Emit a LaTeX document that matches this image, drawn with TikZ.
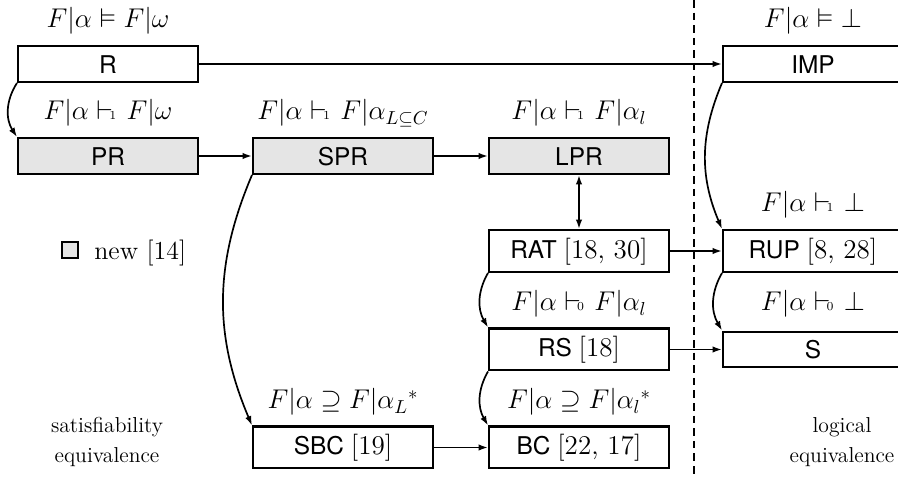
\documentclass[tikz,border=0pt,12pt]{standalone}
\usepackage{amssymb}
\usepackage{fontspec}
\newfontfamily\boxfont{TeX Gyre Heros}
\usetikzlibrary{arrows.meta}
\newcommand{\vdsub}[1]{\mathrel{\vdash\kern-6pt\hbox{\fontsize{6.5pt}{7pt}\selectfont #1}\kern1.5pt}}
\newcommand{\refs}[1]{{\rmfamily\large #1}}
\begin{document}
\begin{tikzpicture}[x=0.5319pt,y=0.5319pt,
  box/.style={draw, line width=1.1pt, minimum width=95.7pt, minimum height=19.1pt,
    text height=11.2pt, text depth=1.4pt, inner sep=0pt,
    font=\boxfont\fontsize{13pt}{15pt}\selectfont},
  tall/.style={minimum height=22.3pt, text height=11pt, text depth=3.4pt},
  newbox/.style={box, fill=black!10},
  lab/.style={anchor=base, inner sep=0pt, font=\large},
  note/.style={anchor=base, inner sep=0pt, font=\fontsize{11.5pt}{14pt}\selectfont},
  conn/.style={line width=0.9pt, -{Latex[length=5pt,width=3.4pt]}},
  dconn/.style={line width=0.9pt, {Latex[length=5pt,width=3.4pt]}-{Latex[length=5pt,width=3.4pt]}},
  sep/.style={line width=1pt, dash pattern=on 4pt off 2.7pt}]
\useasboundingbox (0,0) rectangle (898,477);
\clip (0,0) rectangle (898,477);

% separator
\coordinate (dtop) at (694,477);
\coordinate (dbot) at (694,0);
\draw[sep] (dtop) -- (dbot);

% boxes
\node[box] (R) at (108,413) {R};
\node[newbox] (PR) at (108,321) {PR};
\node[newbox] (SPR) at (343,321) {SPR};
\node[newbox] (LPR) at (579,321) {LPR};
\node[box] (IMP) at (813,413) {IMP};
\node[box,tall] (RAT) at (579,226) {RAT \refs{[18, 30]}};
\node[box,tall] (RUP) at (813,226) {RUP \refs{[8, 28]}};
\node[box,tall] (RS) at (579,127.5) {RS \refs{[18]}};
\node[box] (S) at (813,127.5) {S};
\node[box,tall] (SBC) at (343,29.5) {SBC \refs{[19]}};
\node[box,tall] (BC) at (579,29.5) {BC \refs{[22, 17]}};

% labels
\node[lab] (lR) at (108,449) {$F|\alpha\vDash F|\omega$};
\node[lab] (lIMP) at (813,449) {$F|\alpha\vDash\bot$};
\node[lab] (lPR) at (108,357) {$F|\alpha\vdsub{1} F|\omega$};
\node[lab] (lSPR) at (343,357) {$F|\alpha\vdsub{1} F|\alpha_{L\subseteq C}$};
\node[lab] (lLPR) at (579,357) {$F|\alpha\vdsub{1} F|\alpha_l$};
\node[lab] (lRUP) at (813,265) {$F|\alpha\vdsub{1}\bot$};
\node[lab] (lRS) at (579,166) {$F|\alpha\vdsub{0} F|\alpha_l$};
\node[lab] (lS) at (813,166) {$F|\alpha\vdsub{0}\bot$};
\node[lab] (lSBC) at (343,68) {$F|\alpha\supseteq F|{\alpha_L}^*$};
\node[lab] (lBC) at (579,68) {$F|\alpha\supseteq F|{\alpha_l}^*$};

% legend
\node[draw, line width=1.1pt, fill=black!10, minimum size=8.5pt, inner sep=0pt] (leg) at (70,227) {};
\node[anchor=base west, inner sep=0pt, font=\fontsize{13.8pt}{16pt}\selectfont] (legt) at (94,217) {new [14]};

% region notes
\node[note] (sat1) at (107,44) {satisfiability};
\node[note] (sat2) at (107,14) {equivalence};
\node[note] (log1) at (842,44) {logical};
\node[note] (log2) at (842,14) {equivalence};

% connectors
\draw[conn] (R.east) -- (IMP.west);
\draw[conn] (R.south west) to[bend right=33] (PR.north west);
\draw[conn] (PR) -- (SPR);
\draw[conn] (SPR) -- (LPR);
\draw[conn] (SPR.south west) to[bend right=23] (SBC.north west);
\draw[dconn] (LPR) -- (RAT);
\draw[conn] (RAT) -- (RUP);
\draw[conn] (RAT.south west) to[bend right=30] (RS.north west);
\draw[conn] (RS) -- (S);
\draw[conn] (RS.south west) to[bend right=30] (BC.north west);
\draw[conn] (SBC) -- (BC);
\draw[conn] (IMP.south west) to[bend right=23] (RUP.north west);
\draw[conn] (RUP.south west) to[bend right=30] (S.north west);
\end{tikzpicture}
\end{document}
